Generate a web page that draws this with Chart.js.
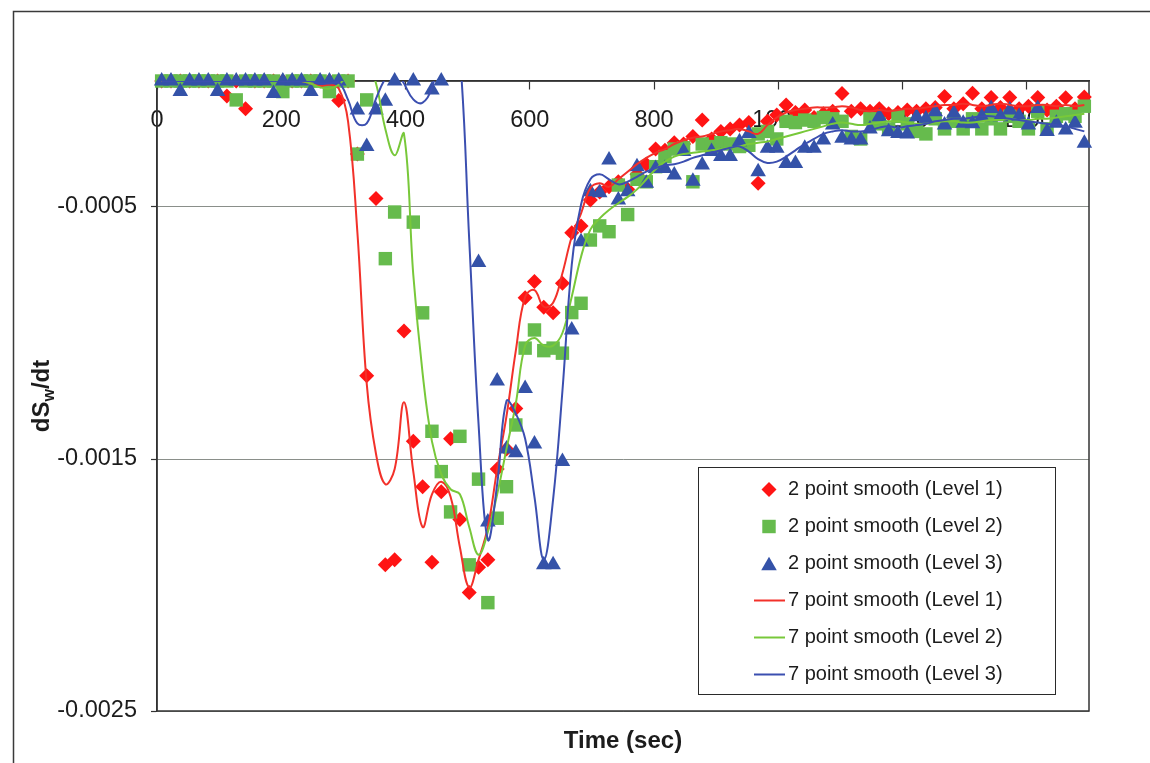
<!DOCTYPE html>
<html>
<head>
<meta charset="utf-8">
<script src="https://cdn.jsdelivr.net/npm/chart.js@4.4.0/dist/chart.umd.min.js"></script>
<style>
  html, body { margin: 0; padding: 0; background: #ffffff; }
  #wrap { width: 1150px; height: 763px; position: relative; }
</style>
</head>
<body>
<div id="wrap"><canvas id="c" width="1150" height="763"></canvas></div>
<script>
// Sample times (s): every value is the midpoint of a 15 s interval
const times = [
  7.5, 22.5, 37.5, 52.5, 67.5, 82.5, 97.5, 112.5, 127.5, 142.5,
  157.5, 172.5, 187.5, 202.5, 217.5, 232.5, 247.5, 262.5, 277.5, 292.5,
  307.5, 322.5, 337.5, 352.5, 367.5, 382.5, 397.5, 412.5, 427.5, 442.5,
  457.5, 472.5, 487.5, 502.5, 517.5, 532.5, 547.5, 562.5, 577.5, 592.5,
  607.5, 622.5, 637.5, 652.5, 667.5, 682.5, 697.5, 712.5, 727.5, 742.5,
  757.5, 772.5, 787.5, 802.5, 817.5, 832.5, 847.5, 862.5, 877.5, 892.5,
  907.5, 922.5, 937.5, 952.5, 967.5, 982.5, 997.5, 1012.5, 1027.5, 1042.5,
  1057.5, 1072.5, 1087.5, 1102.5, 1117.5, 1132.5, 1147.5, 1162.5, 1177.5, 1192.5,
  1207.5, 1222.5, 1237.5, 1252.5, 1267.5, 1282.5, 1297.5, 1312.5, 1327.5, 1342.5,
  1357.5, 1372.5, 1387.5, 1402.5, 1417.5, 1432.5, 1447.5, 1462.5, 1477.5, 1492.5
];

const xTicks = [0, 200, 400, 600, 800, 1000, 1200, 1400];
const yTicks = [-0.0025, -0.0015, -0.0005];

// dSw/dt, 2 point smooth (null = off scale)
const smooth2Level1 = [
  0, 0, 0, 0, 0, 0, 0, -0.6e-4, 0, -1.1e-4,
  0, 0, 0, 0, 0, 0, 0, 0, 0, -0.77e-4,
  0, -2.9e-4, -11.7e-4, -4.66e-4, -19.2e-4, -19.0e-4, -9.92e-4, -14.3e-4, -16.1e-4, -19.1e-4,
  -16.3e-4, -14.2e-4, -17.4e-4, -20.3e-4, -19.3e-4, -19.0e-4, -15.4e-4, -14.6e-4, -13.0e-4, -8.6e-4,
  -7.96e-4, -8.98e-4, -9.2e-4, -8.03e-4, -6.02e-4, -5.75e-4, -4.72e-4, -4.4e-4, -4.2e-4, -4.0e-4,
  -4.3e-4, -3.7e-4, -3.3e-4, -2.7e-4, -2.75e-4, -2.45e-4, -2.5e-4, -2.2e-4, -1.55e-4, -2.3e-4,
  -2.0e-4, -1.9e-4, -1.75e-4, -1.65e-4, -4.06e-4, -1.6e-4, -1.35e-4, -0.95e-4, -1.25e-4, -1.15e-4,
  -1.45e-4, -1.3e-4, -1.2e-4, -0.5e-4, -1.2e-4, -1.1e-4, -1.2e-4, -1.1e-4, -1.3e-4, -1.25e-4,
  -1.15e-4, -1.2e-4, -1.1e-4, -1.05e-4, -0.62e-4, -1.1e-4, -0.9e-4, -0.49e-4, -1.1e-4, -0.65e-4,
  -1.05e-4, -0.65e-4, -1.1e-4, -1.0e-4, -0.65e-4, -1.15e-4, -1.0e-4, -0.66e-4, -1.1e-4, -0.63e-4
];
const smooth2Level2 = [
  0, 0, 0, 0, 0, 0, 0, 0, -0.75e-4, 0,
  0, 0, 0, -0.42e-4, 0, 0, 0, 0, -0.42e-4, 0,
  0, -2.9e-4, -0.75e-4, null, -7.05e-4, -5.2e-4, null, -5.6e-4, -9.2e-4, -13.9e-4,
  -15.5e-4, -17.1e-4, -14.1e-4, -19.2e-4, -15.8e-4, -20.7e-4, -17.35e-4, -16.1e-4, -13.65e-4, -10.6e-4,
  -9.88e-4, -10.7e-4, -10.6e-4, -10.8e-4, -9.19e-4, -8.82e-4, -6.31e-4, -5.75e-4, -5.98e-4, -4.13e-4,
  -5.3e-4, -3.9e-4, -4.0e-4, -3.4e-4, -3.0e-4, -2.7e-4, -2.65e-4, -4.0e-4, -2.5e-4, -2.6e-4,
  -2.45e-4, -2.5e-4, -2.6e-4, -2.55e-4, -2.1e-4, -2.0e-4, -2.3e-4, -1.6e-4, -1.65e-4, -1.55e-4,
  -1.6e-4, -1.45e-4, -1.5e-4, -1.6e-4, -2.2e-4, -2.3e-4, -1.5e-4, -1.7e-4, -1.9e-4, -1.4e-4,
  -1.7e-4, -2.0e-4, -2.1e-4, -1.5e-4, -1.9e-4, -1.6e-4, -1.9e-4, -1.5e-4, -1.9e-4, -1.5e-4,
  -1.9e-4, -1.4e-4, -1.6e-4, -1.9e-4, -1.2e-4, -1.9e-4, -1.4e-4, -1.3e-4, -1.4e-4, -1.0e-4
];
const smooth2Level3 = [
  0, 0, -0.42e-4, 0, 0, 0, -0.42e-4, 0, 0, 0,
  0, 0, -0.5e-4, 0, 0, 0, -0.42e-4, 0, 0, 0,
  null, -1.15e-4, -2.6e-4, -1.15e-4, -0.8e-4, 0, null, 0, null, -0.36e-4,
  0, null, null, null, -7.2e-4, -17.5e-4, -11.9e-4, -14.6e-4, -14.75e-4, -12.2e-4,
  -14.4e-4, -19.2e-4, -19.2e-4, -15.1e-4, -9.88e-4, -6.38e-4, -4.39e-4, -4.43e-4, -3.13e-4, -4.72e-4,
  -4.39e-4, -3.4e-4, -4.06e-4, -3.47e-4, -3.47e-4, -3.73e-4, -2.8e-4, -3.98e-4, -3.33e-4, -2.8e-4,
  -3.0e-4, -3.0e-4, -2.41e-4, -2.08e-4, -3.6e-4, -2.67e-4, -2.67e-4, -3.27e-4, -3.27e-4, -2.67e-4,
  -2.67e-4, -2.34e-4, -1.75e-4, -2.27e-4, -2.34e-4, -2.34e-4, -1.9e-4, -1.42e-4, -2.01e-4, -2.08e-4,
  -2.1e-4, -1.42e-4, -1.5e-4, -1.22e-4, -1.75e-4, -1.28e-4, -1.68e-4, -1.7e-4, -1.42e-4, -1.09e-4,
  -1.42e-4, -1.15e-4, -1.4e-4, -1.75e-4, -1.09e-4, -2.0e-4, -1.68e-4, -1.94e-4, -1.68e-4, -2.47e-4
];

// dSw/dt, 7 point smooth
const smooth7Level1 = [
  0, 0, 0, 0, 0, 0, 0, 0, 0, 0,
  0, 0, 0, 0, 0, 0, -0.1e-4, -0.2e-4, -0.15e-4, -0.3e-4,
  -1.6e-4, -6.0e-4, -12.0e-4, -14.8e-4, -16.0e-4, -15.4e-4, -12.75e-4, -15.5e-4, -17.7e-4, -16.4e-4,
  -15.9e-4, -16.5e-4, -18.5e-4, -20.1e-4, -19.0e-4, -17.7e-4, -15.4e-4, -13.3e-4, -10.7e-4, -8.56e-4,
  -8.3e-4, -8.96e-4, -8.8e-4, -7.63e-4, -6.18e-4, -5.25e-4, -4.25e-4, -4.06e-4, -4.2e-4, -3.9e-4,
  -3.6e-4, -3.3e-4, -3.05e-4, -2.85e-4, -2.7e-4, -2.5e-4, -2.35e-4, -2.25e-4, -2.2e-4, -2.1e-4,
  -2.0e-4, -1.95e-4, -1.9e-4, -2.0e-4, -2.1e-4, -1.75e-4, -1.45e-4, -1.25e-4, -1.15e-4, -1.1e-4,
  -1.05e-4, -1.05e-4, -1.05e-4, -1.0e-4, -1.05e-4, -1.15e-4, -1.2e-4, -1.15e-4, -1.2e-4, -1.15e-4,
  -1.1e-4, -1.1e-4, -1.05e-4, -1.0e-4, -0.95e-4, -0.95e-4, -0.9e-4, -0.95e-4, -1.0e-4, -0.95e-4,
  -0.9e-4, -0.95e-4, -1.0e-4, -1.0e-4, -0.95e-4, -0.95e-4, -1.0e-4, -0.95e-4, -1.0e-4, -0.95e-4
];
const smooth7Level2 = [
  0, 0, 0, 0, 0, 0, 0, 0, 0, 0,
  0, 0, 0, 0, 0, 0, -0.1e-4, -0.25e-4, -0.3e-4, -0.15e-4,
  0.3e-4, 1.0e-4, 0.8e-4, -0.1e-4, -1.9e-4, -2.95e-4, -2.1e-4, -7.7e-4, -11.6e-4, -14.3e-4,
  -15.6e-4, -16.2e-4, -16.4e-4, -17.7e-4, -18.8e-4, -17.9e-4, -16.4e-4, -14.6e-4, -12.8e-4, -10.5e-4,
  -10.2e-4, -10.5e-4, -10.5e-4, -10.0e-4, -8.56e-4, -6.97e-4, -5.9e-4, -5.45e-4, -5.12e-4, -4.85e-4,
  -4.6e-4, -4.3e-4, -3.9e-4, -3.5e-4, -3.2e-4, -3.0e-4, -2.9e-4, -2.85e-4, -2.8e-4, -2.75e-4,
  -2.7e-4, -2.65e-4, -2.6e-4, -2.5e-4, -2.45e-4, -2.4e-4, -2.3e-4, -2.2e-4, -2.1e-4, -2.0e-4,
  -1.9e-4, -1.8e-4, -1.7e-4, -1.65e-4, -1.7e-4, -1.75e-4, -1.7e-4, -1.65e-4, -1.6e-4, -1.6e-4,
  -1.65e-4, -1.7e-4, -1.7e-4, -1.65e-4, -1.6e-4, -1.6e-4, -1.65e-4, -1.65e-4, -1.6e-4, -1.55e-4,
  -1.55e-4, -1.5e-4, -1.55e-4, -1.55e-4, -1.5e-4, -1.5e-4, -1.45e-4, -1.4e-4, -1.35e-4, -1.3e-4
];
const smooth7Level3 = [
  0, 0, 0, 0, 0, 0, 0, 0, 0, 0,
  0, 0, 0, 0, 0, 0, 0, -0.1e-4, -0.1e-4, -0.05e-4,
  -0.75e-4, -1.68e-4, -1.68e-4, -0.7e-4, 0.1e-4, 0.5e-4, -0.1e-4, -0.73e-4, -0.86e-4, -0.27e-4,
  1.5e-4, 3.0e-4, 1.0e-4, -6.3e-4, -13.6e-4, -18.2e-4, -16.0e-4, -12.7e-4, -13.2e-4, -14.2e-4,
  -16.5e-4, -19.0e-4, -16.6e-4, -12.3e-4, -7.3e-4, -4.9e-4, -3.9e-4, -3.7e-4, -3.9e-4, -4.1e-4,
  -4.0e-4, -3.8e-4, -3.6e-4, -3.45e-4, -3.35e-4, -3.3e-4, -3.2e-4, -3.05e-4, -2.95e-4, -2.85e-4,
  -2.75e-4, -2.65e-4, -2.6e-4, -2.8e-4, -3.1e-4, -3.25e-4, -3.2e-4, -3.0e-4, -2.75e-4, -2.5e-4,
  -2.3e-4, -2.1e-4, -2.0e-4, -1.95e-4, -2.0e-4, -2.0e-4, -1.95e-4, -1.85e-4, -1.8e-4, -1.85e-4,
  -1.8e-4, -1.75e-4, -1.7e-4, -1.6e-4, -1.55e-4, -1.5e-4, -1.5e-4, -1.45e-4, -1.4e-4, -1.4e-4,
  -1.45e-4, -1.5e-4, -1.55e-4, -1.6e-4, -1.65e-4, -1.7e-4, -1.75e-4, -1.8e-4, -1.9e-4, -2.0e-4
];

const FONT = "'Liberation Sans', Arial, Helvetica, sans-serif";
const TEXT = '#1c1c1c';
const RED = '#ff1414';
const GREEN = '#66bb4d';
const BLUE = '#3452a8';
const RED_LINE = '#f2312a';
const GREEN_LINE = '#78c83a';
const BLUE_LINE = '#3b4fb0';

const pairs = (vals) => times.map((t, i) => ({ x: t, y: vals[i] }));

// Marker series: markers sitting on the plot edge are drawn whole
function markerSet(label, vals, color, style, radius, order) {
  return {
    label, data: pairs(vals), showLine: false, order, clip: 12,
    pointStyle: style, pointRadius: radius, pointHoverRadius: radius,
    pointBackgroundColor: color, pointBorderColor: color, pointBorderWidth: 0,
    borderColor: color, backgroundColor: color
  };
}
// Smoothed curves: clipped to the plot area
function curveSet(label, vals, color, order) {
  return {
    label, data: pairs(vals), order,
    borderColor: color, backgroundColor: color, borderWidth: 2,
    pointRadius: 0, pointHoverRadius: 0, tension: 0.4, fill: false
  };
}

// Draws one legend symbol with the same geometry Chart.js uses for points
function legendSymbol(ctx, ds, x, y) {
  ctx.save();
  if (ds.showLine === false) {
    const r = ds.pointRadius;
    ctx.fillStyle = ds.pointBackgroundColor;
    ctx.beginPath();
    if (ds.pointStyle === 'rectRot') {
      ctx.moveTo(x - r, y); ctx.lineTo(x, y - r); ctx.lineTo(x + r, y); ctx.lineTo(x, y + r);
    } else if (ds.pointStyle === 'rect') {
      const s = r * Math.SQRT1_2;
      ctx.rect(x - s, y - s, 2 * s, 2 * s);
    } else {
      const cy = y + r / 4;
      ctx.moveTo(x, cy - r);
      ctx.lineTo(x + r * Math.sin(2 * Math.PI / 3), cy - r * Math.cos(2 * Math.PI / 3));
      ctx.lineTo(x + r * Math.sin(4 * Math.PI / 3), cy - r * Math.cos(4 * Math.PI / 3));
    }
    ctx.closePath();
    ctx.fill();
  } else {
    ctx.strokeStyle = ds.borderColor;
    ctx.lineWidth = 2;
    ctx.beginPath();
    ctx.moveTo(x - 15, y); ctx.lineTo(x + 16, y);
    ctx.stroke();
  }
  ctx.restore();
}

const decorations = {
  id: 'decorations',
  beforeDraw(chart) {
    const ctx = chart.ctx;
    ctx.save();
    ctx.fillStyle = '#ffffff';
    ctx.fillRect(0, 0, chart.width, chart.height);
    // outer frame
    ctx.strokeStyle = '#3a3a3a';
    ctx.lineWidth = 1.5;
    ctx.beginPath();
    ctx.moveTo(13.5, chart.height);
    ctx.lineTo(13.5, 11.5);
    ctx.lineTo(chart.width, 11.5);
    ctx.stroke();
    ctx.restore();
  },
  beforeDatasetsDraw(chart) {
    const { ctx, chartArea: a } = chart;
    ctx.save();
    ctx.strokeStyle = '#333333';
    ctx.lineWidth = 1.5;
    ctx.strokeRect(a.left, a.top, a.right - a.left, a.bottom - a.top);
    ctx.restore();
  },
  afterDraw(chart) {
    const { ctx, chartArea: a } = chart;
    ctx.save();
    ctx.fillStyle = TEXT;

    // x axis title
    ctx.font = 'bold 24px ' + FONT;
    ctx.textAlign = 'center';
    ctx.textBaseline = 'middle';
    ctx.fillText('Time (sec)', (a.left + a.right) / 2, 741);

    // y axis title with subscript w
    ctx.save();
    ctx.translate(40, (a.top + a.bottom) / 2);
    ctx.rotate(-Math.PI / 2);
    ctx.textAlign = 'left';
    ctx.textBaseline = 'alphabetic';
    const big = 'bold 24px ' + FONT, small = 'bold 16px ' + FONT;
    ctx.font = big; const w1 = ctx.measureText('dS').width;
    ctx.font = small; const w2 = ctx.measureText('w').width;
    ctx.font = big; const w3 = ctx.measureText('/dt').width;
    let x0 = -(w1 + w2 + w3) / 2;
    const base = 8.6;
    ctx.font = big; ctx.fillText('dS', x0, base); x0 += w1;
    ctx.font = small; ctx.fillText('w', x0, base + 5); x0 += w2;
    ctx.font = big; ctx.fillText('/dt', x0, base);
    ctx.restore();

    // legend box
    const L = 698.5, T = 467.5, R = 1055.5, B = 694.5;
    ctx.fillStyle = '#ffffff';
    ctx.fillRect(L, T, R - L, B - T);
    ctx.strokeStyle = '#2a2a2a';
    ctx.lineWidth = 1;
    ctx.strokeRect(L, T, R - L, B - T);
    ctx.font = '20px ' + FONT;
    ctx.textAlign = 'left';
    ctx.textBaseline = 'middle';
    chart.data.datasets.forEach((ds, i) => {
      const y = 489.5 + i * 37;
      legendSymbol(ctx, ds, 769, y);
      ctx.fillStyle = TEXT;
      ctx.fillText(ds.label, 788, y);
    });
    ctx.restore();
  }
};

Chart.defaults.font.family = FONT;
Chart.defaults.color = TEXT;

new Chart(document.getElementById('c'), {
  type: 'line',
  data: {
    datasets: [
      markerSet('2 point smooth (Level 1)', smooth2Level1, RED, 'rectRot', 7.5, 6),
      markerSet('2 point smooth (Level 2)', smooth2Level2, GREEN, 'rect', 9.5, 5),
      markerSet('2 point smooth (Level 3)', smooth2Level3, BLUE, 'triangle', 9, 4),
      curveSet('7 point smooth (Level 1)', smooth7Level1, RED_LINE, 3),
      curveSet('7 point smooth (Level 2)', smooth7Level2, GREEN_LINE, 2),
      curveSet('7 point smooth (Level 3)', smooth7Level3, BLUE_LINE, 1)
    ]
  },
  options: {
    responsive: false,
    maintainAspectRatio: false,
    devicePixelRatio: 1,
    animation: false,
    events: [],
    layout: { padding: { left: 0, top: 81, right: 61, bottom: 52 } },
    plugins: { legend: { display: false }, tooltip: { enabled: false }, title: { display: false } },
    scales: {
      x: {
        type: 'linear',
        position: { y: 0 },
        min: 0, max: 1500,
        afterBuildTicks: (s) => { s.ticks = xTicks.map(v => ({ value: v })); },
        ticks: { callback: (v) => String(v), font: { size: 23.5 }, color: TEXT, padding: 17, maxRotation: 0, autoSkip: false },
        grid: { drawOnChartArea: false, drawTicks: true, tickLength: 8, tickColor: '#333333', tickWidth: 1.2 },
        border: { display: true, color: '#333333', width: 1.5 }
      },
      y: {
        type: 'linear',
        position: 'left',
        min: -0.0025, max: 0,
        afterBuildTicks: (s) => { s.ticks = yTicks.map(v => ({ value: v })); },
        afterFit: (s) => { s.width = 157; },
        ticks: { callback: (v) => String(v), font: { size: 23.5 }, color: TEXT, padding: 14, autoSkip: false },
        grid: { color: '#8a8f8a', lineWidth: 1, drawTicks: true, tickLength: 6, tickColor: '#333333', tickWidth: 1.2 },
        border: { display: true, color: '#333333', width: 1.5 }
      }
    }
  },
  plugins: [decorations]
});
</script>
</body>
</html>
